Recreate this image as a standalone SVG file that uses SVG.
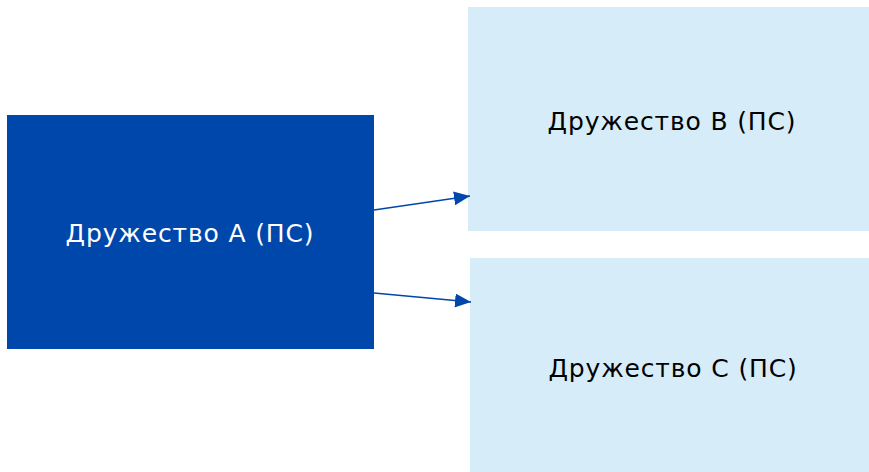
<svg xmlns="http://www.w3.org/2000/svg" width="869" height="472" viewBox="0 0 869 472">
<defs>
<style>
.lbl{font-family:"DejaVu Sans",Verdana,sans-serif;font-size:25px;letter-spacing:0.85px;text-anchor:middle;dominant-baseline:central}
.light{fill:#d6ecf8}
.conn{stroke:#0047ab;stroke-width:1.5;fill:none}
</style>
<marker id="ah" markerWidth="16" markerHeight="14" refX="16" refY="7" orient="auto" markerUnits="userSpaceOnUse">
<path d="M0,0 L16,7 L0,14 Z" fill="#0047ab"/>
</marker>
</defs>
<rect width="869" height="472" fill="#ffffff"/>
<g id="nodeA">
<rect x="7" y="115" width="367" height="234" fill="#0047ab"/>
<text class="lbl" x="190" y="233" fill="#ffffff">Дружество А (ПС)</text>
</g>
<g id="nodeB">
<rect class="light" x="468" y="7" width="401" height="224"/>
<text class="lbl" x="672" y="121" fill="#000000">Дружество В (ПС)</text>
</g>
<g id="nodeC">
<rect class="light" x="470" y="258" width="399" height="214"/>
<text class="lbl" x="673" y="368" fill="#000000">Дружество С (ПС)</text>
</g>
<g id="connectors">
<line class="conn" x1="374" y1="210" x2="470" y2="196" marker-end="url(#ah)"/>
<line class="conn" x1="374" y1="293" x2="471" y2="302" marker-end="url(#ah)"/>
</g>
</svg>
